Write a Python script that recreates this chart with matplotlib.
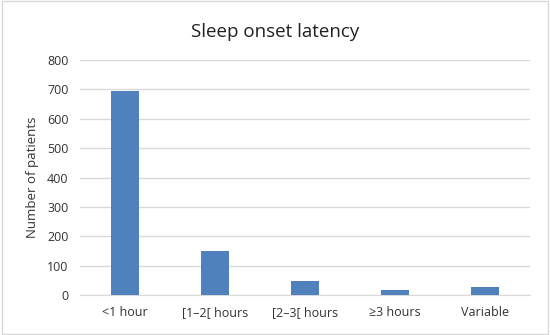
import matplotlib
matplotlib.use("Agg")
import matplotlib.pyplot as plt
from matplotlib.patches import Rectangle

# Dados do gráfico
categorias = ["<1 hour", "[1\u20132[ hours", "[2\u20133[ hours", "\u22653 hours", "Variable"]
pacientes = [694, 150, 47, 17, 27]
yticks = [0, 100, 200, 300, 400, 500, 600, 700, 800]

plt.rcParams["font.family"] = ["Open Sans", "DejaVu Sans"]

fig = plt.figure(figsize=(5.5, 3.35), dpi=100)
ax = fig.add_axes([0.145, 0.119, 0.819, 0.702])

ax.bar(range(len(categorias)), pacientes, width=0.31, color="#4f81bd", zorder=3)
ax.set_xlim(-0.5, len(categorias) - 0.5)
ax.set_ylim(0, 800)
ax.set_yticks(yticks)
ax.set_xticks(range(len(categorias)))
ax.set_xticklabels(categorias)
ax.tick_params(axis="both", length=0, labelsize=9, colors="#333333", pad=8)
ax.grid(axis="y", color="#d9d9d9", linewidth=1, zorder=0)
for lado in ["top", "right", "left"]:
    ax.spines[lado].set_visible(False)
ax.spines["bottom"].set_color("#d9d9d9")
ax.set_ylabel("Number of patients", fontsize=9.5, color="#333333", labelpad=6)
fig.text(0.5, 0.905, "Sleep onset latency", ha="center", va="center", fontsize=13.5, color="#202020")

# moldura cinza ao redor
fig.patches.append(Rectangle((0.003, 0.003), 0.994, 0.994, transform=fig.transFigure,
                             fill=False, edgecolor="#d9d9d9", linewidth=1))

fig.savefig("out.png", dpi=100)
